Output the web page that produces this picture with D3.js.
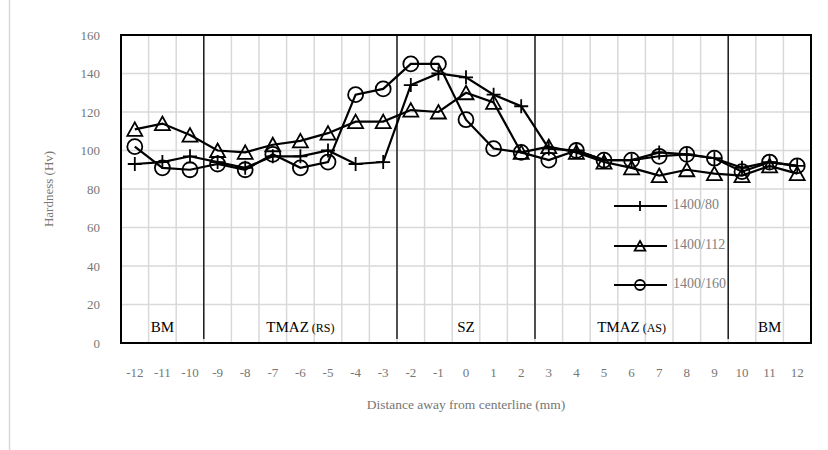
<!DOCTYPE html>
<html>
<head>
<meta charset="utf-8">
<script src="https://cdn.jsdelivr.net/npm/d3@7"></script>
<style>
  html, body { margin: 0; padding: 0; background: #fff; }
  svg { display: block; }
  text { font-family: "Liberation Serif", "Times New Roman", serif; }
</style>
</head>
<body>
<svg id="chart" width="828" height="450"></svg>
<script>
// ---- data ----
const distances = [-12,-11,-10,-9,-8,-7,-6,-5,-4,-3,-2,-1,0,1,2,3,4,5,6,7,8,9,10,11,12];
const series80  = [93, 94, 97, 94, 91, 97, 97, 100, 93, 94, 134, 140, 138, 129, 123, 101, 100, 95, 95, 99, 98, 96, 91, 94, 92];
const series112 = [111, 114, 108, 100, 99, 103, 105, 109, 115, 115, 121, 120, 130, 125, 99, 102, 99, 94, 91, 87, 90, 88, 87, 92, 88];
const series160 = [102, 91, 90, 93, 90, 98, 91, 94, 129, 132, 145, 145, 116, 101, 99, 95, 100, 95, 95, 97, 98, 96, 89, 94, 92];
const seriesNames = ["1400/80", "1400/112", "1400/160"];
const yTicks = [0, 20, 40, 60, 80, 100, 120, 140, 160];
const zoneNames = ["BM", "TMAZ", "SZ", "TMAZ", "BM"];
const zoneSubs  = ["", "(RS)", "", "(AS)", ""];
const zoneStart = [-12, -9, -2, 3, 10];
const zoneEnd   = [-10, -3, 2, 9, 12];
const yTitle = "Hardness (Hv)";
const xTitle = "Distance away from centerline (mm)";

// ---- layout ----
const L = 121, R = 811, T = 35, B = 343;
const svg = d3.select("#chart");
const grid = "#d9d9d9", txt = "#767676";

// outer chart border
svg.append("rect").attr("x", 9.5).attr("y", -5).attr("width", 830).attr("height", 460)
  .attr("fill", "none").attr("stroke", grid).attr("stroke-width", 1.5);

const x = d3.scaleBand().domain(distances).range([L, R]).padding(0);
const bw = x.bandwidth();
const cx = d => x(d) + bw / 2;
const y = d3.scaleLinear().domain([0, 160]).range([B, T]);

// gridlines
svg.append("g").selectAll("line").data(yTicks.slice(1))
  .join("line").attr("x1", L).attr("x2", R).attr("y1", d => y(d)).attr("y2", d => y(d))
  .attr("stroke", grid).attr("stroke-width", 1.5);
svg.append("g").selectAll("line").data(distances.slice(1))
  .join("line").attr("x1", d => x(d)).attr("x2", d => x(d)).attr("y1", T).attr("y2", B)
  .attr("stroke", grid).attr("stroke-width", 1.5);

// zone divider lines
svg.append("g").selectAll("line").data(zoneStart.slice(1))
  .join("line").attr("x1", d => x(d)).attr("x2", d => x(d)).attr("y1", T).attr("y2", B - 4)
  .attr("stroke", "#000").attr("stroke-width", 1.3);

// zone labels
zoneNames.forEach((n, i) => {
  const mid = (x(zoneStart[i]) + x(zoneEnd[i]) + bw) / 2;
  const t = svg.append("text").attr("x", mid).attr("y", 332).attr("text-anchor", "middle")
    .attr("fill", "#000").style("font-size", "15px").text(n);
  if (zoneSubs[i]) t.append("tspan").style("font-size", "12px").text(" " + zoneSubs[i]);
});

// axes
const yAxis = svg.append("g").attr("transform", `translate(${L},0)`)
  .call(d3.axisLeft(y).tickValues(yTicks).tickSize(0).tickPadding(21));
yAxis.select(".domain").remove();
yAxis.selectAll("text").attr("fill", txt).style("font-size", "13px")
  .style("font-family", '"Liberation Serif", serif');

const xAxis = svg.append("g").attr("transform", `translate(0,${B})`)
  .call(d3.axisBottom(x).tickSize(0).tickPadding(25));
xAxis.select(".domain").remove();
xAxis.selectAll("text").attr("fill", txt).style("font-size", "13px")
  .style("font-family", '"Liberation Serif", serif');

// titles
svg.append("text").attr("transform", `translate(50,${(T + B) / 2}) rotate(-90)`)
  .attr("text-anchor", "middle").attr("dominant-baseline", "middle")
  .attr("fill", txt).style("font-size", "13px").text(yTitle);
svg.append("text").attr("x", (L + R) / 2).attr("y", 409).attr("text-anchor", "middle")
  .attr("fill", txt).style("font-size", "13.5px").text(xTitle);

// plot border
svg.append("rect").attr("x", L).attr("y", T).attr("width", R - L).attr("height", B - T)
  .attr("fill", "none").attr("stroke", "#000").attr("stroke-width", 2);

// markers
function plusPath(s) { return `M${-s},0H${s}M0,${-s}V${s}`; }
function triPath(s) { return `M0,${-s}L${s * 1.07},${s * 0.93}L${-s * 1.07},${s * 0.93}Z`; }
function drawMarker(g, type, px, py, s) {
  if (type === 0) g.append("path").attr("d", plusPath(s)).attr("transform", `translate(${px},${py})`)
    .attr("fill", "none").attr("stroke", "#000").attr("stroke-width", 1.8);
  else if (type === 1) g.append("path").attr("d", triPath(s)).attr("transform", `translate(${px},${py})`)
    .attr("fill", "none").attr("stroke", "#000").attr("stroke-width", 1.8);
  else g.append("circle").attr("cx", px).attr("cy", py).attr("r", s)
    .attr("fill", "none").attr("stroke", "#000").attr("stroke-width", 1.8);
}

const allSeries = [series80, series112, series160];
const line = d3.line().x((d, i) => cx(distances[i])).y(d => y(d));
allSeries.forEach((vals, k) => {
  const g = svg.append("g");
  g.append("path").attr("d", line(vals)).attr("fill", "none").attr("stroke", "#000").attr("stroke-width", 2.2);
  vals.forEach((v, i) => drawMarker(g, k, cx(distances[i]), y(v), k === 2 ? 7.5 : 7));
});

// legend
const legY = [206, 246, 285];
seriesNames.forEach((n, k) => {
  const g = svg.append("g");
  g.append("line").attr("x1", 614).attr("x2", 667).attr("y1", legY[k]).attr("y2", legY[k])
    .attr("stroke", "#000").attr("stroke-width", 2.2);
  drawMarker(g, k, 640, legY[k], 5);
  g.append("text").attr("x", 673).attr("y", legY[k]).attr("dominant-baseline", "middle")
    .attr("fill", "#808080").style("font-size", "14px").text(n);
});
</script>
</body>
</html>
